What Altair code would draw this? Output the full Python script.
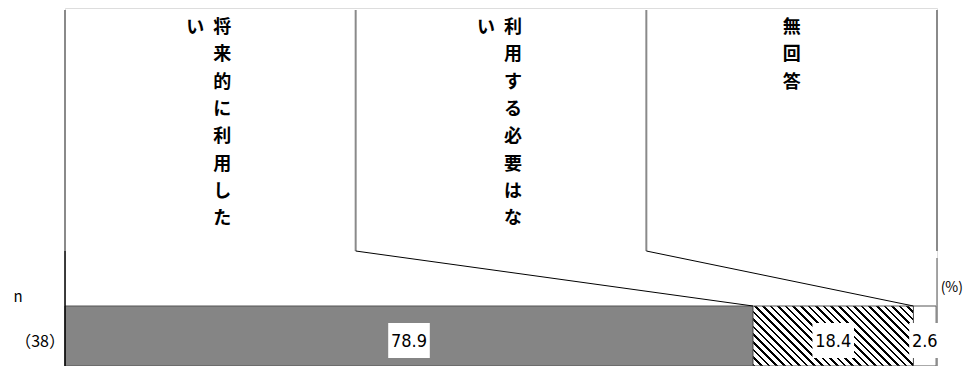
import altair as alt
import pandas as pd

# ---- data ----
categories = ["将来的に利用したい", "利用する必要はない", "無回答"]
values = [78.9, 18.4, 2.6]
value_labels = ["78.9", "18.4", "2.6"]
row_label = "（38）"
n_label = "n"
unit_label = "(%)"

# ---- layout / style ----
W, H = 872, 358          # plot area (px)
PAD_L, PAD_R = 57, 27
BOX_TOP, BOX_BOT = 2, 243
BAR_TOP, BAR_BOT = 298, 358
COL_MAX = 8
CJK = "Noto Sans CJK JP"
NARROW = "'Liberation Sans Narrow', 'DejaVu Sans Condensed', 'Liberation Sans', sans-serif"

starts, ends, acc = [], [], 0.0
for v in values:
    starts.append(acc)
    acc += v
    ends.append(acc)
seg = pd.DataFrame({
    "cat": categories, "value": values, "start": starts, "end": ends,
    "label": value_labels, "idx": list(range(len(values))),
})
seg["mid"] = (seg["start"] + seg["end"]) / 2
seg["halfw"] = seg["label"].str.len() * 5.2 / (W / 100)

ncat = len(categories)
box = pd.DataFrame({"edge": [i * 100 / ncat for i in range(ncat + 1)]})
hdr = pd.DataFrame({
    "center": [(i + 0.5) * 100 / ncat for i in range(ncat)],
    "main": ["\n".join(list(c[:COL_MAX])) for c in categories],
    "over": ["\n".join(list(c[COL_MAX:])) for c in categories],
    "dx": [12 if len(c) > COL_MAX else 0 for c in categories],
})
conn = pd.DataFrame({
    "from": [i * 100 / ncat for i in range(1, ncat)],
    "to": starts[1:],
})

xs = alt.Scale(domain=[0, 100], nice=False, zero=False)
X = lambda f: alt.X(f, type="quantitative", scale=xs, axis=None)

# hatch gradient for 2nd segment (diagonal stripes)
w_px = values[1] * W / 100
h_px = BAR_BOT - BAR_TOP
k = (w_px + h_px) / (w_px ** 2 + h_px ** 2)
a, b = k * w_px, k * h_px
N = 29
stops = []
for i in range(N):
    o0 = i / N
    o1 = (i + 0.36) / N
    stops += [alt.GradientStop(offset=o0, color="#000000"),
              alt.GradientStop(offset=o1, color="#000000"),
              alt.GradientStop(offset=o1, color="#ffffff"),
              alt.GradientStop(offset=(i + 1) / N, color="#ffffff")]
hatch = alt.LinearGradient(gradient="linear", stops=stops, x1=0, y1=1, x2=a, y2=1 - b)

fills = ["#858585", hatch, "#ffffff"]
base = alt.Chart(seg)
bars = [
    base.transform_filter(alt.datum.idx == i).mark_rect(
        fill=fills[i], stroke="#555555", strokeWidth=1
    ).encode(x=X("start"), x2="end", y=alt.value(BAR_TOP), y2=alt.value(BAR_BOT))
    for i in range(len(values))
]

vlines = alt.Chart(box).mark_rule(color="#8a8a8a", strokeWidth=2).encode(
    x=X("edge"), y=alt.value(BOX_TOP), y2=alt.value(BOX_BOT)
)
connectors = alt.Chart(conn).mark_rule(color="#000000", strokeWidth=1).encode(
    x=X("from"), x2="to", y=alt.value(BOX_BOT), y2=alt.value(BAR_TOP)
)
left_axis = alt.Chart(box.head(1)).mark_rule(color="#000000", strokeWidth=1.5).encode(
    x=X("edge"), y=alt.value(BOX_BOT), y2=alt.value(BAR_BOT)
)
right_axis = alt.Chart(box.tail(1)).mark_rule(color="#8a8a8a", strokeWidth=1.5).encode(
    x=X("edge"), y=alt.value(BOX_BOT + 7), y2=alt.value(BAR_BOT)
)

lab_bg = base.transform_calculate(
    x0="datum.mid - datum.halfw", x1="datum.mid + datum.halfw"
).mark_rect(fill="#ffffff").encode(
    x=X("x0:Q"), x2="x1:Q", y=alt.value(315), y2=alt.value(350)
)
lab_txt = base.mark_text(
    font=NARROW, fontSize=18, color="#000000", baseline="middle"
).encode(x=X("mid"), y=alt.value(334), text="label:N")

hdr_main = alt.layer(*[
    alt.Chart(hdr.iloc[[i]]).mark_text(
        font=CJK, fontSize=18, fontWeight="bold", lineBreak="\n", lineHeight=27.3,
        baseline="top", align="center", color="#000000", dx=int(hdr["dx"][i])
    ).encode(x=X("center"), y=alt.value(11), text="main:N")
    for i in range(ncat)
])
hdr_over = alt.Chart(hdr[hdr["over"] != ""]).mark_text(
    font=CJK, fontSize=18, fontWeight="bold", lineBreak="\n", lineHeight=27.3,
    baseline="top", align="center", color="#000000", dx=-15
).encode(x=X("center"), y=alt.value(11), text="over:N")

side = pd.DataFrame({"t": [n_label, row_label, unit_label]})
n_txt = alt.Chart(side.iloc[[0]]).mark_text(
    font=CJK, fontSize=15, color="#000000", baseline="middle", align="center"
).encode(x=alt.value(-47), y=alt.value(289), text="t:N")
row_txt = alt.Chart(side.iloc[[1]]).mark_text(
    font=CJK, fontSize=16, color="#000000", baseline="middle", align="center"
).encode(x=alt.value(-25), y=alt.value(334), text="t:N")
unit_txt = alt.Chart(side.iloc[[2]]).mark_text(
    font=CJK, fontSize=14, color="#000000", baseline="middle", align="right"
).encode(x=alt.value(W + PAD_R - 1), y=alt.value(280), text="t:N")

chart = alt.layer(
    *bars, vlines, connectors, left_axis, right_axis, lab_bg, lab_txt,
    hdr_main, hdr_over, n_txt, row_txt, unit_txt
).properties(
    width=W, height=H,
    autosize=alt.AutoSizeParams(type="none"),
    padding={"left": PAD_L, "right": PAD_R, "top": 0, "bottom": 0},
).configure_view(stroke=None).configure(background="#ffffff")

chart.save("out.html", embed_options={"renderer": "svg", "actions": False})
